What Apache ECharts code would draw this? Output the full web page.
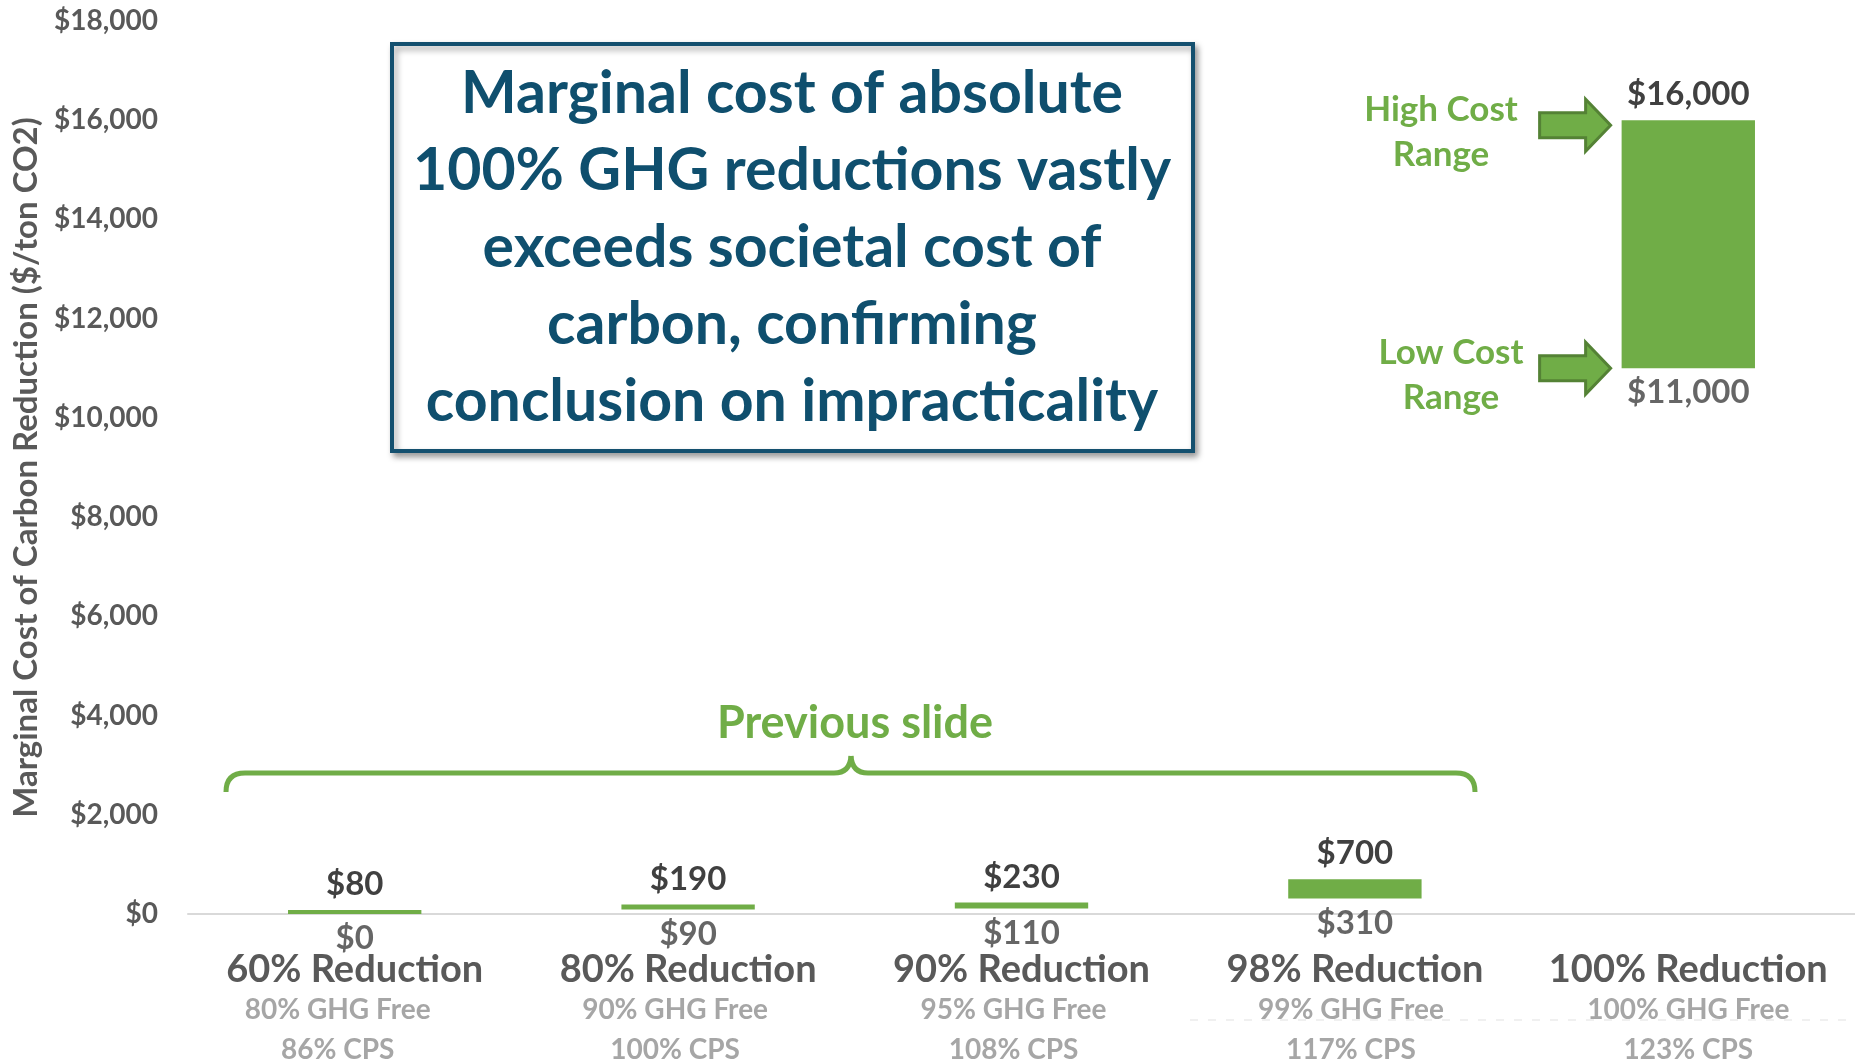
<!DOCTYPE html>
<html><head><meta charset="utf-8">
<script src="https://cdn.jsdelivr.net/npm/echarts@6/dist/echarts.min.js"></script>
<style>html,body{margin:0;padding:0;background:#fff}#c{width:1855px;height:1062px}</style>
</head><body><div id="c"></div>
<script>
const categories = ['60% Reduction','80% Reduction','90% Reduction','98% Reduction','100% Reduction'];
const ghgFree = ['80% GHG Free','90% GHG Free','95% GHG Free','99% GHG Free','100% GHG Free'];
const cps = ['86% CPS','100% CPS','108% CPS','117% CPS','123% CPS'];
const lowCost = [0, 90, 110, 310, 11000];
const highCost = [80, 190, 230, 700, 16000];
const yMin = 0, yMax = 18000, yStep = 2000;
const titleLines = ['Marginal cost of absolute','100% GHG reductions vastly','exceeds societal cost of','carbon, confirming','conclusion on impracticality'];

const FONT = 'Lato, "Open Sans", sans-serif';
const GREEN = '#70ad47', GREEN_DK = '#548235', TEAL = '#0f4f6e';
const money = v => '$' + Number(v).toLocaleString('en-US');
const subShift = [17, 13, 8, 4, 0];

const rich = { a: { fontFamily: FONT, fontWeight: 'bold', fontSize: 38, color: '#595959', lineHeight: 41 } };
subShift.forEach((s, i) => {
  rich['b' + i] = { fontFamily: FONT, fontWeight: 'bold', fontSize: 28, color: '#a6a6a6', lineHeight: 40, padding: [0, 2 * s, 0, 0] };
  rich['c' + i] = { fontFamily: FONT, fontWeight: 'bold', fontSize: 28, color: '#a6a6a6', lineHeight: 39, padding: [0, 2 * s, 0, 0] };
});

const chart = echarts.init(document.getElementById('c'), null, { renderer: 'canvas' });
chart.setOption({
  backgroundColor: '#fff',
  animation: false,
  grid: { left: 188, right: 0, top: 21, bottom: 148, containLabel: false, outerBoundsMode: 'none' },
  xAxis: {
    type: 'category', data: categories,
    axisLine: { lineStyle: { color: '#d9d9d9', width: 2 } },
    axisTick: { show: false },
    axisLabel: {
      interval: 0, margin: 35,
      formatter: (v, i) => `{a|${v}}\n{b${i}|${ghgFree[i]}}\n{c${i}|${cps[i]}}`,
      rich: rich
    }
  },
  yAxis: {
    type: 'value', min: yMin, max: yMax, interval: yStep,
    name: 'Marginal Cost of Carbon Reduction ($/ton CO2)',
    nameLocation: 'middle', nameRotate: 90, nameGap: 145,
    nameTextStyle: { fontFamily: FONT, fontWeight: 'bold', fontSize: 33, color: '#595959' },
    axisLine: { show: false }, axisTick: { show: false }, splitLine: { show: false },
    axisLabel: { margin: 30, formatter: v => money(v), fontFamily: FONT, fontWeight: 'bold', fontSize: 28, color: '#595959' }
  },
  series: [
    { name: 'base', type: 'bar', stack: 'r', barWidth: '40%', data: lowCost,
      itemStyle: { color: 'rgba(0,0,0,0)' }, silent: true },
    { name: 'range', type: 'bar', stack: 'r', barWidth: '40%',
      data: highCost.map((h, i) => h - lowCost[i]),
      itemStyle: { color: GREEN },
      label: { show: true, position: 'top', distance: 9, formatter: p => money(highCost[p.dataIndex]),
        fontFamily: FONT, fontWeight: 'bold', fontSize: 33, color: '#404040' } },
    { name: 'low', type: 'scatter', symbolSize: 0.1, data: lowCost, silent: true,
      itemStyle: { color: 'rgba(0,0,0,0)' },
      label: { show: true, position: 'bottom', distance: 8, formatter: p => money(p.value),
        fontFamily: FONT, fontWeight: 'bold', fontSize: 33, color: '#404040' } }
  ]
});

// annotations
const last = categories.length - 1;
const cx = chart.convertToPixel({ seriesIndex: 1 }, [last, highCost[last]]);
const yHigh = cx[1];
const yLow = chart.convertToPixel({ seriesIndex: 1 }, [last, lowCost[last]])[1];
const band = chart.convertToPixel({ xAxisIndex: 0 }, 1) - chart.convertToPixel({ xAxisIndex: 0 }, 0);
const barLeft = cx[0] - band * 0.2;
function arrow(tipY) {
  const tipX = barLeft - 11;
  const headW = 25, shaftL = 46, shaftH = 12.5, headH = 26;
  const hx = tipX - headW, sx = hx - shaftL;
  return { type: 'polygon', shape: { points: [[sx, tipY - shaftH], [hx, tipY - shaftH], [hx, tipY - headH], [tipX, tipY], [hx, tipY + headH], [hx, tipY + shaftH], [sx, tipY + shaftH]] },
    style: { fill: GREEN, stroke: GREEN_DK, lineWidth: 3, lineJoin: 'miter' } };
}
const greenText = (x, y, t) => ({ type: 'text', x: x, y: y, style: { text: t, fontFamily: FONT, fontWeight: 'bold', fontSize: 35, fill: GREEN, textAlign: 'center', textVerticalAlign: 'middle' } });
const braceStyle = { stroke: GREEN, lineWidth: 5, fill: 'none' };
const bz = (x1, y1, cx1, cy1, x2, y2) => ({ type: 'bezierCurve', shape: { x1, y1, cpx1: cx1, cpy1: cy1, x2, y2 }, style: braceStyle });
const ln = (x1, y1, x2, y2) => ({ type: 'line', shape: { x1, y1, x2, y2 }, style: braceStyle });

chart.setOption({
  graphic: [
    { type: 'line', z: -1, shape: { x1: 1190, y1: 1020, x2: 1855, y2: 1020 }, style: { stroke: '#ececec', lineWidth: 1.5, lineDash: [8, 10] } },
    { type: 'rect', shape: { x: 392, y: 44, width: 801, height: 407 },
      style: { fill: '#fff', stroke: '#14506f', lineWidth: 4, shadowBlur: 6, shadowOffsetX: 3, shadowOffsetY: 4, shadowColor: 'rgba(0,0,0,0.35)' } },
    { type: 'text', x: 792, y: 248, style: { text: titleLines.join('\n'), fontFamily: FONT, fontWeight: 'bold', fontSize: 59, lineHeight: 77, fill: TEAL, textAlign: 'center', textVerticalAlign: 'middle' } },
    bz(226, 792, 226, 773, 245, 773), ln(245, 773, 834, 773),
    bz(834, 773, 850, 773, 851, 756), bz(851, 756, 852, 773, 868, 773),
    ln(868, 773, 1456, 773), bz(1456, 773, 1475, 773, 1475, 792),
    { type: 'text', x: 855, y: 723, style: { text: 'Previous slide', fontFamily: FONT, fontWeight: 'bold', fontSize: 45, fill: GREEN, textAlign: 'center', textVerticalAlign: 'middle' } },
    greenText(1441, 110, 'High Cost'), greenText(1441, 155, 'Range'),
    greenText(1451, 353, 'Low Cost'), greenText(1451, 398, 'Range'),
    arrow(yHigh + 5), arrow(yLow)
  ]
});
</script></body></html>
